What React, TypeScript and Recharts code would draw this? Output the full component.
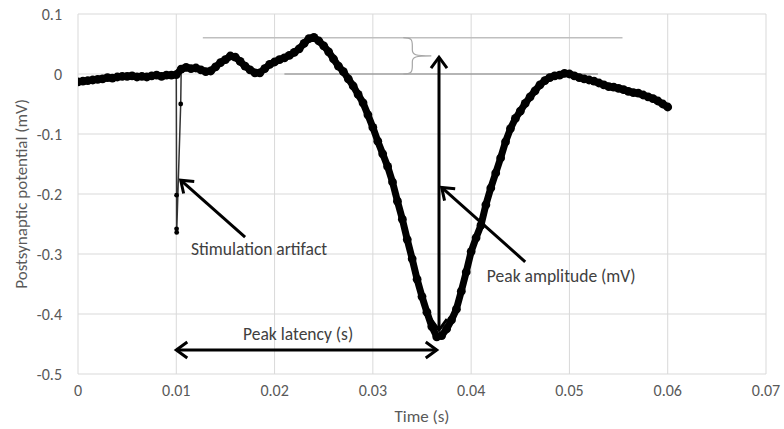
import React from "react";
import {
  CartesianGrid,
  ComposedChart,
  Line,
  ReferenceDot,
  ReferenceLine,
  XAxis,
  YAxis,
} from "recharts";

const timeS = [
  0, 0.0005, 0.001, 0.0015, 0.002, 0.0025, 0.003, 0.0035, 0.004, 0.0045, 0.005, 0.0055, 0.006,
  0.0065, 0.007, 0.0075, 0.008, 0.0085, 0.009, 0.0095, 0.01, 0.0105, 0.011, 0.0115, 0.012,
  0.0125, 0.013, 0.0135, 0.014, 0.0145, 0.015, 0.0155, 0.016, 0.0165, 0.017, 0.0175, 0.018,
  0.0185, 0.019, 0.0195, 0.02, 0.0205, 0.021, 0.0215, 0.022, 0.0225, 0.023, 0.0235, 0.024,
  0.0245, 0.025, 0.0255, 0.026, 0.0265, 0.027, 0.0275, 0.028, 0.0285, 0.029, 0.0295, 0.03,
  0.0305, 0.031, 0.0315, 0.032, 0.0325, 0.033, 0.0335, 0.034, 0.0345, 0.035, 0.0355, 0.036,
  0.0365, 0.037, 0.0375, 0.038, 0.0385, 0.039, 0.0395, 0.04, 0.0405, 0.041, 0.0415, 0.042,
  0.0425, 0.043, 0.0435, 0.044, 0.0445, 0.045, 0.0455, 0.046, 0.0465, 0.047, 0.0475, 0.048,
  0.0485, 0.049, 0.0495, 0.05, 0.0505, 0.051, 0.0515, 0.052, 0.0525, 0.053, 0.0535, 0.054,
  0.0545, 0.055, 0.0555, 0.056, 0.0565, 0.057, 0.0575, 0.058, 0.0585, 0.059, 0.0595, 0.06,
];
const potentialMV = [
  -0.013, -0.012, -0.011, -0.01, -0.009, -0.008, -0.006, -0.007, -0.005, -0.004, -0.004, -0.003,
  -0.005, -0.004, -0.005, -0.003, -0.002, -0.004, -0.002, -0.002, -0.001, 0.008, 0.011, 0.009,
  0.01, 0.007, 0.004, 0.005, 0.012, 0.019, 0.024, 0.03, 0.028, 0.021, 0.013, 0.007, 0.002, 0.002,
  0.009, 0.016, 0.02, 0.024, 0.027, 0.031, 0.036, 0.042, 0.051, 0.059, 0.061, 0.055, 0.047, 0.037,
  0.025, 0.013, 0.004, -0.008, -0.02, -0.034, -0.048, -0.068, -0.089, -0.112, -0.133, -0.154,
  -0.18, -0.212, -0.242, -0.276, -0.308, -0.342, -0.371, -0.397, -0.421, -0.438, -0.436, -0.425,
  -0.41, -0.392, -0.362, -0.33, -0.296, -0.273, -0.252, -0.218, -0.19, -0.165, -0.14, -0.113,
  -0.091, -0.074, -0.062, -0.049, -0.038, -0.028, -0.018, -0.011, -0.006, -0.003, -0.002, 0.001,
  0, -0.003, -0.006, -0.008, -0.01, -0.012, -0.015, -0.018, -0.021, -0.022, -0.024, -0.026, -0.029,
  -0.031, -0.032, -0.035, -0.038, -0.041, -0.045, -0.05, -0.055,
];

// stimulation artifact samples
const artifactTimeS = [0.01, 0.01003, 0.01003, 0.01004, 0.01045, 0.0105];
const artifactMV = [-0.001, -0.202, -0.258, -0.264, -0.05, 0.008];

const xTicks = [0, 0.01, 0.02, 0.03, 0.04, 0.05, 0.06, 0.07];
const yTicks = [-0.5, -0.4, -0.3, -0.2, -0.1, 0, 0.1];

const recording = timeS.map((t, i) => ({ t, v: potentialMV[i] }));
const artifact = artifactTimeS.map((t, i) => ({ t, v: artifactMV[i] }));

const FONT = "Carlito, Calibri, Lato, sans-serif";
const TEXT = "#404040";
const AXIS_TEXT = "#595959";

function arrowHead(tipX: number, tipY: number, fromX: number, fromY: number) {
  const dx = tipX - fromX;
  const dy = tipY - fromY;
  const len = Math.hypot(dx, dy) || 1;
  const ux = dx / len;
  const uy = dy / len;
  const L = 11;
  const W = 8;
  const bx = tipX - ux * L;
  const by = tipY - uy * L;
  return `${bx - uy * W},${by + ux * W} ${tipX},${tipY} ${bx + uy * W},${by - ux * W}`;
}

// tail first, tip second
const arrow = (bothEnds: boolean) => (p: any) => {
  const { x1, y1, x2, y2 } = p;
  return (
    <g>
      <line x1={x1} y1={y1} x2={x2} y2={y2} stroke="#000" strokeWidth={3} />
      <polyline points={arrowHead(x2, y2, x1, y1)} fill="none" stroke="#000" strokeWidth={3} />
      {bothEnds && (
        <polyline points={arrowHead(x1, y1, x2, y2)} fill="none" stroke="#000" strokeWidth={3} />
      )}
    </g>
  );
};

const brace = (p: any) => {
  const { x1: x, y1: top, y2: bot } = p;
  const m = (top + bot) / 2;
  const d = `M ${x} ${top} C ${x + 8} ${top}, ${x + 9} ${top + 2}, ${x + 9} ${top + 8}
    L ${x + 9} ${m - 6} C ${x + 9} ${m - 1}, ${x + 12} ${m}, ${x + 28} ${m}
    C ${x + 12} ${m}, ${x + 9} ${m + 1}, ${x + 9} ${m + 6}
    L ${x + 9} ${bot - 8} C ${x + 9} ${bot - 2}, ${x + 8} ${bot}, ${x} ${bot}`;
  return <path d={d} fill="none" stroke="#a6a6a6" strokeWidth={1.2} />;
};

const note = (text: string, anchor: "start" | "middle") => (p: any) => (
  <text
    x={p.cx}
    y={p.cy}
    textAnchor={anchor}
    dominantBaseline="central"
    fontFamily={FONT}
    fontSize={17.5}
    fill={TEXT}
  >
    {text}
  </text>
);

export default function App() {
  return (
    <div style={{ position: "absolute", left: 0, top: 0, fontFamily: FONT, background: "#fff" }}>
      <ComposedChart width={784} height={429} margin={{ top: 14, right: 18, bottom: 0, left: 0 }}>
        <CartesianGrid stroke="#d9d9d9" />
        <XAxis
          type="number"
          dataKey="t"
          domain={[0, 0.07]}
          ticks={xTicks}
          allowDataOverflow
          axisLine={false}
          tickLine={false}
          tickMargin={5}
          height={55}
          tick={{ fill: AXIS_TEXT, fontSize: 16, fontFamily: FONT }}
          label={{
            value: "Time (s)",
            position: "insideBottom",
            offset: 7,
            fill: AXIS_TEXT,
            fontSize: 17,
            fontFamily: FONT,
          }}
        />
        <YAxis
          type="number"
          domain={[-0.5, 0.1]}
          ticks={yTicks}
          allowDataOverflow
          axisLine={false}
          tickLine={false}
          tickMargin={10}
          width={78}
          tick={{ fill: AXIS_TEXT, fontSize: 16, fontFamily: FONT }}
          label={{
            value: "Postsynaptic potential (mV)",
            angle: -90,
            position: "insideLeft",
            offset: 21,
            fill: AXIS_TEXT,
            fontSize: 17,
            fontFamily: FONT,
            style: { textAnchor: "middle" },
          }}
        />

        <ReferenceLine
          segment={[
            { x: 0.0127, y: 0.0605 },
            { x: 0.0554, y: 0.0605 },
          ]}
          stroke="#bfbfbf"
          strokeWidth={1.5}
        />
        <ReferenceLine
          segment={[
            { x: 0.021, y: 0 },
            { x: 0.0529, y: 0 },
          ]}
          stroke="#7f7f7f"
          strokeWidth={1}
        />

        <Line
          data={artifact}
          dataKey="v"
          type="linear"
          stroke="#333"
          strokeWidth={1.5}
          dot={{ r: 2.4, fill: "#000", stroke: "none" }}
          activeDot={false}
          isAnimationActive={false}
        />
        <Line
          data={recording}
          dataKey="v"
          type="linear"
          stroke="#000"
          strokeWidth={7}
          strokeLinejoin="round"
          dot={{ r: 4.4, fill: "#000", stroke: "none" }}
          activeDot={false}
          isAnimationActive={false}
        />

        <ReferenceLine
          segment={[
            { x: 0.0331, y: 0.0605 },
            { x: 0.0331, y: 0 },
          ]}
          shape={brace}
        />
        <ReferenceLine
          segment={[
            { x: 0.017, y: -0.272 },
            { x: 0.01045, y: -0.177 },
          ]}
          shape={arrow(false)}
        />
        <ReferenceLine
          segment={[
            { x: 0.03673, y: -0.427 },
            { x: 0.03673, y: 0.028 },
          ]}
          shape={arrow(true)}
        />
        <ReferenceLine
          segment={[
            { x: 0.0455, y: -0.313 },
            { x: 0.037, y: -0.189 },
          ]}
          shape={arrow(false)}
        />
        <ReferenceLine
          segment={[
            { x: 0.01, y: -0.46 },
            { x: 0.0365, y: -0.46 },
          ]}
          shape={arrow(true)}
        />

        <ReferenceDot x={0.0115} y={-0.291} shape={note("Stimulation artifact", "start")} />
        <ReferenceDot x={0.0416} y={-0.337} shape={note("Peak amplitude (mV)", "start")} />
        <ReferenceDot x={0.0224} y={-0.434} shape={note("Peak latency (s)", "middle")} />
      </ComposedChart>
    </div>
  );
}
